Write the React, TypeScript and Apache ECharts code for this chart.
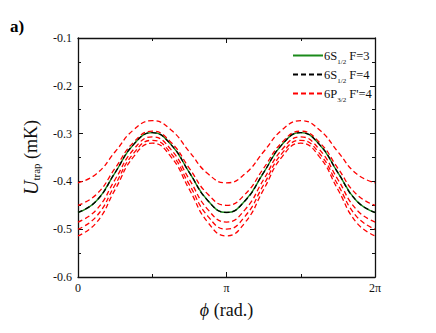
import React, { useEffect, useRef } from "react";
import * as echarts from "echarts";

// phi sample positions in units of pi/8 (0 .. 2pi)
const phiEighths = [0, 1, 2, 3, 4, 5, 6, 7, 8, 9, 10, 11, 12, 13, 14, 15, 16];

// values (mK)
const s12F3 = [-0.465, -0.4405, -0.3815, -0.3225, -0.298, -0.3225, -0.3815, -0.4405, -0.465, -0.4405, -0.3815, -0.3225, -0.298, -0.3225, -0.3815, -0.4405, -0.465];
const s12F4 = [-0.465, -0.4405, -0.3815, -0.3225, -0.298, -0.3225, -0.3815, -0.4405, -0.465, -0.4405, -0.3815, -0.3225, -0.298, -0.3225, -0.3815, -0.4405, -0.465];
const p32a = [-0.403, -0.384, -0.338, -0.292, -0.273, -0.292, -0.338, -0.384, -0.403, -0.384, -0.338, -0.292, -0.273, -0.292, -0.338, -0.384, -0.403];
const p32b = [-0.45, -0.427, -0.3725, -0.318, -0.295, -0.318, -0.3725, -0.427, -0.45, -0.427, -0.3725, -0.318, -0.295, -0.318, -0.3725, -0.427, -0.45];
const p32c = [-0.485, -0.459, -0.396, -0.333, -0.307, -0.333, -0.396, -0.459, -0.485, -0.459, -0.396, -0.333, -0.307, -0.333, -0.396, -0.459, -0.485];
const p32d = [-0.5, -0.473, -0.407, -0.341, -0.314, -0.341, -0.407, -0.473, -0.5, -0.473, -0.407, -0.341, -0.314, -0.341, -0.407, -0.473, -0.5];
const p32e = [-0.514, -0.486, -0.417, -0.348, -0.32, -0.348, -0.417, -0.486, -0.514, -0.486, -0.417, -0.348, -0.32, -0.348, -0.417, -0.486, -0.514];

const xTickLabels: Record<string, string> = { "0": "0", "1": "π", "2": "2π" };
const legendNames = ["6S1/2 F=3", "6S1/2 F=4", "6P3/2 F'=4"];
const legendRich: Record<string, string> = {
  "6S1/2 F=3": "6S{sub|1/2} F=3",
  "6S1/2 F=4": "6S{sub|1/2} F=4",
  "6P3/2 F'=4": "6P{sub|3/2} F'=4",
};

const FONT = "Liberation Serif";

function toData(vals: number[]) {
  return vals.map((v, i) => [(phiEighths[i] * Math.PI) / 8, v]);
}

export default function App() {
  const ref = useRef<HTMLDivElement>(null);
  useEffect(() => {
    if (!ref.current) return;
    const chart = echarts.init(ref.current, null, { renderer: "svg" });
    const redSeries = [p32a, p32b, p32c, p32d, p32e].map((vals) => ({
      name: legendNames[2],
      type: "line",
      smooth: true,
      symbol: "none",
      data: toData(vals),
      lineStyle: { color: "#ff0000", width: 1.3, type: [5, 3] },
      itemStyle: { color: "#ff0000" },
    }));
    const axisCommon = {
      type: "value",
      axisLine: { show: true, onZero: false, lineStyle: { color: "#111", width: 1.3 } },
      splitLine: { show: false },
      axisTick: { show: true, inside: true, length: 5, lineStyle: { color: "#111", width: 1 } },
      minorTick: { show: true, splitNumber: 2, length: 3, lineStyle: { color: "#111", width: 1 } },
      minorSplitLine: { show: false },
    };
    chart.setOption({
      animation: false,
      backgroundColor: "#fff",
      grid: { left: 78, right: 61, top: 38, bottom: 56 },
      legend: {
        data: legendNames,
        orient: "vertical",
        left: 287,
        top: 44,
        itemWidth: 30,
        itemHeight: 12,
        itemGap: 3,
        itemStyle: { opacity: 0, borderWidth: 0 },
        formatter: (n: string) => legendRich[n] || n,
        textStyle: {
          fontFamily: FONT,
          fontSize: 12.5,
          color: "#111",
          padding: [0, 0, 0, -4],
          rich: {
            sub: { fontFamily: FONT, fontSize: 7, color: "#111", padding: [12, 0, 0, 0] },
          },
        },
      },
      xAxis: [
        {
          ...axisCommon,
          position: "bottom",
          min: 0,
          max: 2 * Math.PI,
          interval: Math.PI,
          axisLabel: {
            fontFamily: FONT,
            fontSize: 12,
            color: "#111",
            margin: 5,
            formatter: (v: number) => xTickLabels[String(Math.round(v / Math.PI))] ?? "",
          },
          name: "{i|ϕ} (rad.)",
          nameLocation: "middle",
          nameGap: 24,
          nameTextStyle: {
            fontFamily: FONT,
            fontSize: 18,
            color: "#111",
            rich: { i: { fontFamily: FONT, fontStyle: "italic", fontSize: 18, color: "#111" } },
          },
        },
        {
          ...axisCommon,
          position: "top",
          min: 0,
          max: 2 * Math.PI,
          interval: Math.PI,
          axisLabel: { show: false },
        },
      ],
      yAxis: [
        {
          ...axisCommon,
          position: "left",
          min: -0.6,
          max: -0.1,
          interval: 0.1,
          axisLabel: {
            fontFamily: FONT,
            fontSize: 12,
            color: "#111",
            margin: 6,
            formatter: (v: number) => v.toFixed(1),
          },
          name: "{i|U}{s|trap} (mK)",
          nameLocation: "middle",
          nameRotate: 90,
          nameGap: 37,
          nameTextStyle: {
            fontFamily: FONT,
            fontSize: 18,
            color: "#111",
            rich: {
              i: { fontFamily: FONT, fontStyle: "italic", fontSize: 20, color: "#111" },
              s: { fontFamily: FONT, fontSize: 11, color: "#111", padding: [9, 0, 0, 0] },
            },
          },
        },
        {
          ...axisCommon,
          position: "right",
          min: -0.6,
          max: -0.1,
          interval: 0.1,
          axisLabel: { show: false },
        },
      ],
      graphic: [
        {
          type: "text",
          left: 10,
          top: 18,
          style: { text: "a)", fontFamily: FONT, fontWeight: "bold", fontSize: 17, fill: "#000" },
        },
      ],
      series: [
        {
          name: legendNames[0],
          type: "line",
          smooth: true,
          symbol: "none",
          data: toData(s12F3),
          lineStyle: { color: "#1a8a1a", width: 1.4, type: "solid" },
          itemStyle: { color: "#1a8a1a" },
        },
        {
          name: legendNames[1],
          type: "line",
          smooth: true,
          symbol: "none",
          data: toData(s12F4),
          lineStyle: { color: "#000", width: 1.3, type: [5, 3] },
          itemStyle: { color: "#000" },
        },
        ...redSeries,
      ],
    });
    return () => chart.dispose();
  }, []);
  return <div ref={ref} style={{ width: 436, height: 333, marginLeft: -8, marginTop: -8 }} />;
}
